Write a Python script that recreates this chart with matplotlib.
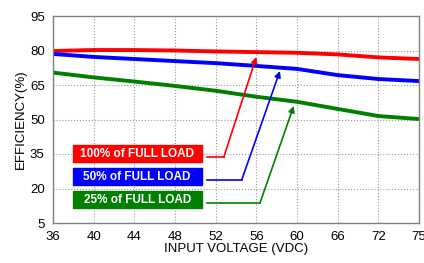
import matplotlib.pyplot as plt
from matplotlib.patches import Rectangle

plt.rcParams['font.family'] = ['Liberation Sans', 'DejaVu Sans']

voltage_labels = ["36", "40", "44", "48", "52", "56", "60", "66", "72", "75"]
eff_100 = [79.8, 80.2, 80.2, 80.0, 79.6, 79.3, 79.0, 78.3, 77.0, 76.3]
eff_50 = [78.5, 77.2, 76.3, 75.4, 74.5, 73.3, 72.0, 69.3, 67.6, 66.7]
eff_25 = [70.4, 68.3, 66.5, 64.6, 62.5, 59.9, 57.7, 54.6, 51.5, 50.2]

series = [
    ("100% of FULL LOAD", eff_100, "#ff0000", 35.2, (4.2, 33.7), (5.0, 77.2)),
    ("50% of FULL LOAD", eff_50, "#0000ff", 25.2, (4.64, 23.7), (5.58, 71.1)),
    ("25% of FULL LOAD", eff_25, "#008000", 15.2, (5.09, 13.7), (5.92, 55.9)),
]

fig = plt.figure(figsize=(4.24, 2.63), dpi=100)
ax = fig.add_axes([53 / 424, 40 / 263, 366 / 424, 207 / 263])

x = list(range(len(voltage_labels)))
for label, vals, color, ybox, knee, tip in series:
    ax.plot(x, vals, color=color, lw=2.8, solid_joinstyle="round")
    ax.add_patch(Rectangle((0.49, ybox - 3.7), 3.17, 7.4, color=color, zorder=3))
    ax.text(2.07, ybox, label, color="white", fontsize=8.5, fontweight="bold",
            ha="center", va="center", zorder=4)
    ax.plot([3.78, knee[0]], [knee[1], knee[1]], color=color, lw=1.2)
    ax.annotate("", xy=tip, xytext=knee,
                arrowprops=dict(arrowstyle="-|>", color=color, lw=1.2,
                                mutation_scale=9, shrinkA=0, shrinkB=0))

ax.set_xlim(0, 9)
ax.set_ylim(5, 95)
ax.set_xticks(x)
ax.set_xticklabels(voltage_labels)
ax.set_yticks(range(5, 96, 15))
ax.tick_params(length=0, labelsize=9.5, pad=6)
ax.grid(True, color="#999999", linestyle=":", lw=0.8)
for s in ax.spines.values():
    s.set_color("#808080")
    s.set_linewidth(1.0)

ax.set_xlabel("INPUT VOLTAGE (VDC)", fontsize=9.5, labelpad=0)
ax.set_ylabel("EFFICIENCY(%)", fontsize=9.5, labelpad=2)

fig.savefig("out.png", dpi=100)
